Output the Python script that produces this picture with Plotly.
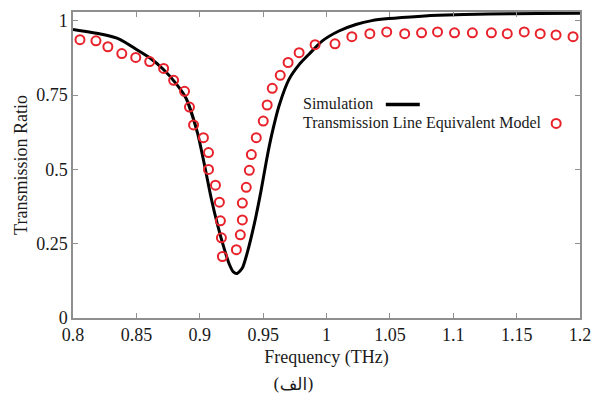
import plotly.graph_objects as go

# Simulation (black line)
sim_freq = [0.800, 0.8238, 0.8369, 0.8501, 0.8605, 0.8710, 0.8815, 0.8894, 0.8982, 0.9035,
            0.9090, 0.9139, 0.9194, 0.9234, 0.9265, 0.9295, 0.9336, 0.9375, 0.9430, 0.9483,
            0.9525, 0.9568, 0.9627, 0.9705, 0.9784, 0.9862, 0.9965, 1.0098, 1.0232, 1.0358,
            1.0491, 1.0750, 1.0884, 1.1277, 1.167, 1.200]
sim_trans = [0.971, 0.954, 0.938, 0.904, 0.876, 0.838, 0.788, 0.738, 0.623, 0.520,
             0.404, 0.316, 0.232, 0.180, 0.155, 0.150, 0.168, 0.220, 0.316, 0.427,
             0.527, 0.617, 0.716, 0.804, 0.853, 0.888, 0.932, 0.966, 0.988, 1.001,
             1.008, 1.016, 1.019, 1.023, 1.025, 1.026]

# Transmission line equivalent model (red open circles)
tl_freq = [0.8055, 0.8181, 0.8275, 0.8385, 0.8495, 0.8605, 0.8715, 0.8794, 0.8880, 0.8919,
           0.8951, 0.9029, 0.9069, 0.9069, 0.9124, 0.9155, 0.9163, 0.9171, 0.9179, 0.9289,
           0.9320, 0.9336, 0.9336, 0.9367, 0.9391, 0.9407, 0.9446, 0.9501, 0.9532, 0.9572,
           0.9635, 0.9697, 0.9784, 0.9910, 1.0067, 1.0200, 1.0342, 1.0475, 1.0617, 1.0750,
           1.0876, 1.1010, 1.1151, 1.1301, 1.1426, 1.1560, 1.1686, 1.1811, 1.1945]
tl_trans = [0.937, 0.933, 0.913, 0.890, 0.877, 0.863, 0.840, 0.800, 0.763, 0.710,
            0.650, 0.607, 0.557, 0.500, 0.447, 0.390, 0.327, 0.270, 0.207, 0.230,
            0.280, 0.330, 0.387, 0.440, 0.497, 0.550, 0.607, 0.663, 0.717, 0.773,
            0.817, 0.860, 0.893, 0.920, 0.923, 0.947, 0.957, 0.963, 0.957, 0.960,
            0.963, 0.960, 0.960, 0.960, 0.957, 0.963, 0.957, 0.953, 0.947]

x_ticks = [0.8, 0.85, 0.9, 0.95, 1.0, 1.05, 1.1, 1.15, 1.2]
x_ticklabels = ["0.8", "0.85", "0.9", "0.95", "1", "1.05", "1.1", "1.15", "1.2"]
y_ticks = [0, 0.25, 0.5, 0.75, 1]
y_ticklabels = ["0", "0.25", "0.5", "0.75", "1"]

legend_names = ["Simulation", "Transmission Line Equivalent Model"]
caption = "(الف)"

RED = "#e8222b"
FONT = "Liberation Serif, DejaVu Serif, serif"

fig = go.Figure()
fig.add_trace(go.Scatter(x=sim_freq, y=sim_trans, mode="lines",
                         line=dict(color="black", width=3, shape="spline", smoothing=0.6),
                         name=legend_names[0], showlegend=False))
fig.add_trace(go.Scatter(x=tl_freq, y=tl_trans, mode="markers",
                         marker=dict(symbol="circle-open", size=9, color=RED,
                                     line=dict(color=RED, width=2)),
                         name=legend_names[1], showlegend=False))

axis_common = dict(showline=True, mirror="ticks", linecolor="#8f8f8f", linewidth=1.5,
                   ticks="inside", ticklen=5, tickcolor="#8f8f8f", tickwidth=1.2,
                   showgrid=False, zeroline=False,
                   tickfont=dict(family=FONT, size=18, color="#1a1a1a"))

fig.update_layout(
    width=601, height=401,
    margin=dict(l=73, r=19, t=10, b=83),
    paper_bgcolor="white", plot_bgcolor="white",
    font=dict(family=FONT, color="#1a1a1a"),
    xaxis=dict(range=[0.8, 1.2], tickvals=x_ticks, ticktext=x_ticklabels,
               title=dict(text="Frequency (THz)", font=dict(family=FONT, size=18), standoff=6),
               **axis_common),
    yaxis=dict(range=[0, 1.03], tickvals=y_ticks, ticktext=y_ticklabels,
               title=dict(text="Transmission Ratio", font=dict(family=FONT, size=18), standoff=4),
               **axis_common),
)

# Custom legend: text first, symbol to the right
fig.add_annotation(xref="paper", yref="paper", x=0.450, y=0.701, xanchor="left", yanchor="middle",
                   text=legend_names[0], showarrow=False, font=dict(family=FONT, size=16, color="#1a1a1a"))
fig.add_annotation(xref="paper", yref="paper", x=0.450, y=0.636, xanchor="left", yanchor="middle",
                   text=legend_names[1], showarrow=False, font=dict(family=FONT, size=16, color="#1a1a1a"))
fig.add_shape(type="line", xref="paper", yref="paper", x0=0.617, x1=0.684, y0=0.698, y1=0.698,
              line=dict(color="black", width=3.5))
fig.add_shape(type="circle", xref="paper", yref="paper", xsizemode="pixel", ysizemode="pixel",
              xanchor=0.953, yanchor=0.636, x0=-4.5, x1=4.5, y0=-4.5, y1=4.5,
              line=dict(color=RED, width=2))

# Caption
fig.add_annotation(xref="paper", yref="paper", x=0.435, y=-0.175, xanchor="center", yanchor="top",
                   text=caption, showarrow=False,
                   font=dict(family="DejaVu Serif, DejaVu Sans, serif", size=17, color="#1a1a1a"))

fig.write_html("out.html")
